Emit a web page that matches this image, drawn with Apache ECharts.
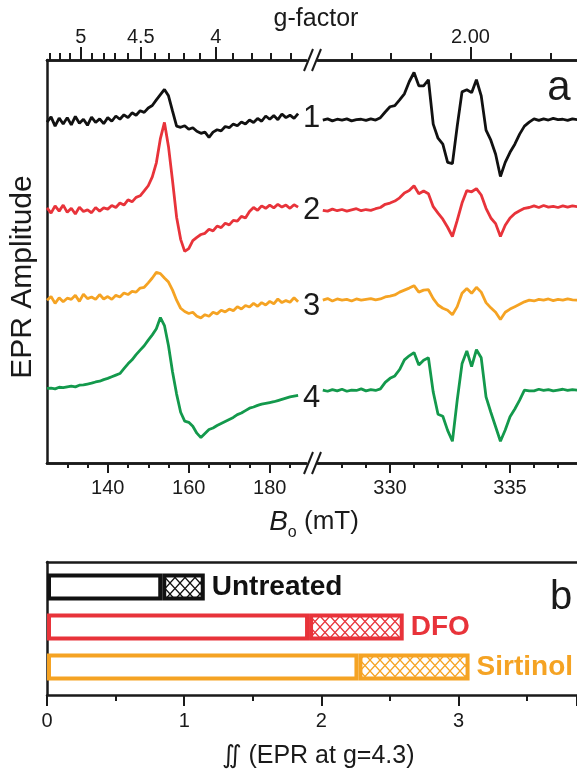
<!DOCTYPE html>
<html>
<head>
<meta charset="utf-8">
<script src="https://cdn.jsdelivr.net/npm/echarts@6/dist/echarts.min.js"></script>
<style>
  html, body { margin: 0; padding: 0; background: #fff; }
  #chart { width: 577px; height: 771px; }
</style>
</head>
<body>
<div id="chart"></div>
<script>
// ---- Panel a: EPR spectra (field in mT, amplitude in arbitrary units) ----

// low-field window (g ~ 4.3 region), 1 mT steps
const fieldLow = [125, 126, 127, 128, 129, 130, 131, 132, 133, 134, 135, 136, 137, 138, 139, 140,
  141, 142, 143, 144, 145, 146, 147, 148, 149, 150, 151, 152, 153, 154, 155, 156, 157, 158, 159, 160,
  161, 162, 163, 164, 165, 166, 167, 168, 169, 170, 171, 172, 173, 174, 175, 176, 177, 178, 179, 180,
  181, 182, 183, 184, 185, 186, 187];

// high-field window (g ~ 2 region), 0.2 mT steps
const fieldHigh = [327.2, 327.4, 327.6, 327.8, 328.0, 328.2, 328.4, 328.6, 328.8, 329.0, 329.2, 329.4,
  329.6, 329.8, 330.0, 330.2, 330.4, 330.6, 330.8, 331.0, 331.2, 331.4, 331.6, 331.8, 332.0, 332.2,
  332.4, 332.6, 332.8, 333.0, 333.2, 333.4, 333.6, 333.8, 334.0, 334.2, 334.4, 334.6, 334.8, 335.0,
  335.2, 335.4, 335.6, 335.8, 336.0, 336.2, 336.4, 336.6, 336.8, 337.0, 337.2, 337.4, 337.6, 337.8];

const spectrum1Low = [-0.5, 0.8, -1.5, 0.5, -1.0, 0.6, -1.2, 0.9, -0.8, 0.2, -1.3, 0.7, -0.6, 0.3, -0.9, 0.6,
  -0.3, 1.0, 0.2, 1.3, 0.6, 1.8, 1.2, 2.3, 1.9, 3.0, 3.6, 5.0, 6.3, 7.6, 6.0, 2.2, -1.5, -1.8, -1.4, -2.3,
  -1.9, -2.8, -3.3, -3.0, -4.3, -3.0, -2.4, -2.7, -1.6, -1.9, -1.0, -1.4, -0.5, -1.0, 0.0, -0.6, 0.4, -0.3,
  1.0, 0.2, 1.1, 0.1, 1.5, 0.6, 1.2, 0.4, 1.6];
const spectrum2Low = [0.3, -1.0, 0.8, -0.5, 1.0, -0.8, 0.2, -1.2, 0.5, -0.6, -0.2, -0.9, 0.4, -0.5, 0.3, 0.0,
  0.9, 0.4, 1.5, 1.0, 2.3, 1.8, 2.9, 3.3, 4.5, 5.8, 8.0, 11.5, 17.5, 21.5, 15.5, 7.0, -2.0, -7.5, -10.5, -9.8,
  -7.8, -7.0, -6.3, -6.0, -5.0, -5.4, -4.2, -4.6, -3.5, -3.9, -2.8, -3.0, -1.8, -2.2, -0.6, 0.4, -0.3, 0.8,
  0.2, 1.0, 0.3, 1.2, 0.5, 1.0, 0.2, 1.1, 0.5];
const spectrum3Low = [0.0, 0.9, -0.8, 0.6, -0.4, 0.5, 0.2, 1.2, -0.3, 1.5, 0.4, 0.8, 0.2, 1.4, 0.3, 0.9,
  0.2, 1.2, 0.8, 1.8, 1.4, 2.2, 2.0, 3.0, 3.2, 4.3, 5.5, 6.9, 6.6, 5.5, 4.5, 2.5, 0.0, -2.0, -2.8, -3.3,
  -3.0, -4.0, -4.4, -3.6, -4.0, -3.0, -3.4, -2.5, -2.9, -2.2, -2.6, -1.6, -2.2, -1.3, -1.7, -0.8, -1.5, -0.6,
  -1.2, -0.3, -0.9, 0.3, -0.6, -0.1, -0.5, 0.6, -0.4];
const spectrum4Low = [0.9, 1.0, 0.8, 1.2, 1.1, 1.3, 1.5, 1.3, 1.7, 1.8, 2.0, 2.2, 2.5, 2.7, 3.1, 3.4,
  3.8, 4.2, 4.6, 5.8, 7.0, 8.0, 9.3, 10.4, 11.5, 12.9, 14.2, 15.7, 18.5, 16.5, 11.5, 5.0, -0.5, -5.0, -7.2, -7.5,
  -8.5, -10.2, -11.3, -10.3, -9.3, -8.9, -8.3, -7.8, -7.3, -6.8, -6.3, -5.6, -5.2, -4.6, -4.0, -3.7, -3.3, -3.0,
  -2.8, -2.6, -2.4, -2.1, -1.8, -1.5, -1.2, -1.0, -0.8];

const spectrum1High = [0.0, 0.3, -0.2, 0.2, 0.0, 0.3, -0.2, 0.1, 0.2, -0.1, 0.3, 0.0, 0.6, 2.0, 3.3, 3.6,
  5.0, 6.5, 9.5, 11.8, 8.5, 8.5, 10.0, -1.0, -4.5, -6.0, -10.5, -10.8, -1.5, 7.0, 7.5, 6.8, 10.0, 6.0,
  -2.5, -5.0, -8.5, -14.0, -10.5, -8.0, -6.0, -3.5, -1.5, -0.5, 0.3, -0.1, 0.3, 0.0, 0.4, 0.1, 0.2, -0.1, 0.3, 0.1];
const spectrum2High = [-0.3, -0.5, 0.0, -0.4, -0.1, -0.5, -0.2, 0.1, -0.4, -0.1, -0.3, 0.1, 0.4, 1.2, 1.5, 2.0,
  2.8, 4.0, 4.6, 5.8, 3.8, 4.5, 3.8, 0.6, -1.0, -2.5, -4.5, -6.8, -2.8, 1.5, 4.6, 4.3, 5.1, 3.5,
  0.2, -2.2, -3.6, -6.8, -4.0, -2.2, -1.1, -0.4, 0.2, 0.4, 0.8, 0.4, 0.9, 0.5, 0.7, 0.4, 0.8, 0.5, 0.8, 0.6];
const spectrum3High = [0.0, 0.4, -0.2, 0.3, 0.0, 0.2, -0.2, 0.3, 0.0, 0.2, 0.4, 0.1, 0.3, 0.8, 1.0, 1.3,
  2.0, 2.5, 3.0, 3.6, 2.0, 2.5, 2.6, 0.4, -1.2, -2.0, -2.5, -3.6, -1.6, 1.7, 2.9, 1.7, 3.2, 2.0,
  -0.6, -1.9, -3.0, -4.8, -3.0, -2.2, -1.6, -1.0, -0.4, 0.0, -0.2, 0.2, 0.0, 0.3, -0.1, 0.2, 0.0, 0.3, 0.1, 0.0];
const spectrum4High = [0.5, 0.2, 0.6, 0.3, 0.7, 0.2, 0.5, 0.4, 0.8, 0.3, 0.6, 0.4, 0.8, 2.4, 3.4, 4.0,
  5.6, 8.0, 9.0, 9.8, 6.7, 7.9, 8.5, 0.0, -5.5, -6.0, -9.5, -12.2, -2.0, 7.0, 10.2, 6.3, 10.5, 8.5,
  -1.2, -5.0, -8.6, -12.2, -9.4, -6.1, -4.2, -2.0, 0.5, 0.3, 0.3, 0.7, 0.4, 0.6, 0.3, 0.5, 0.7, 0.4, 0.6, 0.5];

const traceNames = ['1', '2', '3', '4'];
const traceColors = ['#111111', '#e8333a', '#f5a323', '#13994c'];
const traceOffsets = [85.1, 63.0, 40.4, 17.6];   // vertical stacking of the four spectra
const lowTraces = [spectrum1Low, spectrum2Low, spectrum3Low, spectrum4Low];
const highTraces = [spectrum1High, spectrum2High, spectrum3High, spectrum4High];

// field axes ticks (mT)
const lowMajor = [140, 160, 180];
const lowMinor = [130, 135, 140, 145, 150, 155, 160, 165, 170, 175, 180, 185];
const highMajor = [330, 335];
const highMinor = [328, 329, 330, 331, 332, 333, 334, 335, 336, 337];

// g-factor axis: B * g = h*nu / muB (mT)
const fieldTimesG = 666.7;
const gLowMajor = [5, 4.5, 4];
const gLowMajorText = ['5', '4.5', '4'];
const gLowMinor = [5.3, 5.2, 5.1, 5.0, 4.9, 4.8, 4.7, 4.6, 4.5, 4.4, 4.3, 4.2, 4.1, 4.0, 3.9, 3.8, 3.7, 3.6];
const gHighMajor = [2.00];
const gHighMajorText = ['2.00'];
const gHighMinor = [2.03, 2.02, 2.01, 2.00, 1.99, 1.98];

// ---- Panel b: double-integrated signal at g = 4.3 ----
const groups = ['Untreated', 'DFO', 'Sirtinol'];
const groupColors = ['#111111', '#e8333a', '#f5a323'];
const openPart = [0.84, 1.91, 2.27];
const hatchedPart = [0.31, 0.69, 0.81];

// ---- layout ----
const ink = '#1a1a1a';
const font = 'Liberation Sans, Arial, Helvetica, sans-serif';
const A = { left: 47, top: 60, height: 403, lowMin: 125, lowMax: 189, lowWidth: 259.2,
            highLeft: 318, highMin: 327, highMax: 337.79, highWidth: 259 };
const B = { left: 47, top: 562, height: 133, barTop: 567, barHeight: 120, width: 530, max: 3.863 };

const toField = g => fieldTimesG / g;

function gFormatter(gs, texts) {
  return v => {
    const g = fieldTimesG / v;
    let best = 0;
    gs.forEach((x, i) => { if (Math.abs(x - g) < Math.abs(gs[best] - g)) best = i; });
    return texts[best];
  };
}

function tickAxis(gridIndex, min, max, position, ticks, len, labels, fmt) {
  return {
    type: 'value', gridIndex, min, max, position, offset: 0,
    axisLine: { show: true, onZero: false, lineStyle: { color: ink, width: 2.5 } },
    axisTick: { show: true, inside: false, length: len, customValues: ticks,
                lineStyle: { color: ink, width: 2 } },
    axisLabel: labels ? {
      show: true, customValues: labels, formatter: fmt || (v => String(v)),
      fontSize: 20, color: ink, fontFamily: font, margin: position === 'top' ? 13 : 15
    } : { show: false },
    splitLine: { show: false }
  };
}

const xAxes = [
  tickAxis(0, A.lowMin, A.lowMax, 'bottom', lowMajor, 10, lowMajor),
  tickAxis(0, A.lowMin, A.lowMax, 'bottom', lowMinor, 5),
  tickAxis(0, A.lowMin, A.lowMax, 'top', gLowMajor.map(toField), 13, gLowMajor.map(toField),
           gFormatter(gLowMajor, gLowMajorText)),
  tickAxis(0, A.lowMin, A.lowMax, 'top', gLowMinor.map(toField), 7),
  tickAxis(1, A.highMin, A.highMax, 'bottom', highMajor, 10, highMajor),
  tickAxis(1, A.highMin, A.highMax, 'bottom', highMinor, 5),
  tickAxis(1, A.highMin, A.highMax, 'top', gHighMajor.map(toField), 13, gHighMajor.map(toField),
           gFormatter(gHighMajor, gHighMajorText)),
  tickAxis(1, A.highMin, A.highMax, 'top', gHighMinor.map(toField), 7),
  {
    type: 'value', gridIndex: 2, min: 0, max: B.max, interval: 1, position: 'bottom',
    axisLine: { show: true, onZero: false, lineStyle: { color: ink, width: 2.5 } },
    axisTick: { show: true, length: 11, lineStyle: { color: ink, width: 2 } },
    minorTick: { show: true, splitNumber: 2, length: 6, lineStyle: { color: ink, width: 2 } },
    axisLabel: { fontSize: 20, color: ink, fontFamily: font, margin: 16, showMaxLabel: false },
    splitLine: { show: false }, minorSplitLine: { show: false }
  },
  {
    type: 'value', gridIndex: 2, min: 0, max: B.max, position: 'top',
    axisLine: { show: true, onZero: false, lineStyle: { color: ink, width: 2.5 } },
    axisTick: { show: false }, axisLabel: { show: false }, splitLine: { show: false }
  },
  { type: 'value', gridIndex: 3, min: 0, max: B.max, show: false }
];

const yAxes = [
  { type: 'value', gridIndex: 0, min: 0, max: 100,
    axisLine: { show: true, onZero: false, lineStyle: { color: ink, width: 2.5 } },
    axisTick: { show: false }, axisLabel: { show: false }, splitLine: { show: false } },
  { type: 'value', gridIndex: 1, min: 0, max: 100, show: false },
  { type: 'value', gridIndex: 2, min: 0, max: 1,
    axisLine: { show: true, onZero: false, lineStyle: { color: ink, width: 2.5 } },
    axisTick: { show: false }, axisLabel: { show: false }, splitLine: { show: false } },
  { type: 'category', gridIndex: 3, data: groups, inverse: true, show: false }
];

// vertical nudges for the trace numbers placed in the axis break
const numberShift = [5, 3, 5, 3];

const series = [];
lowTraces.forEach((amp, k) => {
  series.push({
    type: 'line', xAxisIndex: 0, yAxisIndex: 0, symbol: 'none', silent: true,
    data: fieldLow.map((b, i) => [b, traceOffsets[k] + amp[i]]),
    lineStyle: { color: traceColors[k], width: 2.8 },
    itemStyle: { color: traceColors[k] },
    endLabel: { show: true, formatter: traceNames[k], fontSize: 31, color: ink,
                fontFamily: font, distance: 5, offset: [0, numberShift[k]] }
  });
});
highTraces.forEach((amp, k) => {
  series.push({
    type: 'line', xAxisIndex: 4, yAxisIndex: 1, symbol: 'none', silent: true,
    data: fieldHigh.map((b, i) => [b, traceOffsets[k] + amp[i]]),
    lineStyle: { color: traceColors[k], width: 2.8 },
    itemStyle: { color: traceColors[k] }
  });
});

function hatch(color) {
  const c = document.createElement('canvas');
  c.width = 10; c.height = 11;
  const ctx = c.getContext('2d');
  ctx.fillStyle = '#ffffff';
  ctx.fillRect(0, 0, 10, 11);
  ctx.strokeStyle = color;
  ctx.lineWidth = 1.3;
  ctx.beginPath();
  ctx.moveTo(0, 0); ctx.lineTo(10, 11);
  ctx.moveTo(10, 0); ctx.lineTo(0, 11);
  ctx.stroke();
  return c;
}

series.push({
  type: 'bar', xAxisIndex: 10, yAxisIndex: 3, stack: 'integral', barWidth: 27, silent: true,
  data: openPart.map((v, i) => ({
    value: v, itemStyle: { color: '#ffffff', borderColor: groupColors[i], borderWidth: 4 }
  }))
});
series.push({
  type: 'bar', xAxisIndex: 10, yAxisIndex: 3, stack: 'integral', barWidth: 27, silent: true,
  data: hatchedPart.map((v, i) => ({
    value: v,
    itemStyle: { color: { image: hatch(groupColors[i]), repeat: 'repeat' },
                 borderColor: groupColors[i], borderWidth: 4 },
    label: { color: groupColors[i] }
  })),
  label: { show: true, position: 'right', distance: 7, formatter: '{b}',
           fontSize: 28, fontWeight: 'bold', fontFamily: font }
});

// axis-break marks on the top and bottom frame lines
const breakLeft = 304;
const breakMarks = [];
[A.top, A.top + A.height].forEach(y => {
  [0, 8].forEach(dx => {
    breakMarks.push({
      type: 'line', silent: true,
      shape: { x1: breakLeft + dx, y1: y + 11, x2: breakLeft + dx + 9, y2: y - 11 },
      style: { stroke: ink, lineWidth: 2 }
    });
  });
});

function label(text, x, y, size, extra) {
  return {
    type: 'text', x, y, silent: true,
    style: Object.assign({ text, fontSize: size, fontFamily: font, fill: ink,
                           align: 'center', verticalAlign: 'middle' }, extra || {})
  };
}

const yTitle = label('EPR Amplitude', 23, 277, 30);
yTitle.rotation = Math.PI / 2;

const graphics = breakMarks.concat([
  label('g-factor', 316, 19, 25),
  yTitle,
  label('a', 559, 88, 42),
  label('b', 561, 598, 40),
  label('\u222C (EPR at g=4.3)', 318, 756, 25),
  label('{i|B}{s|o} (mT)', 314, 522, 26, {
    rich: {
      i: { fontStyle: 'italic', fontSize: 28, fontFamily: font, fill: ink },
      s: { fontSize: 16, fontFamily: font, fill: ink, padding: [22, 0, 0, 0] }
    }
  })
]);

const chart = echarts.init(document.getElementById('chart'), null, { renderer: 'canvas' });
chart.setOption({
  animation: false,
  backgroundColor: '#ffffff',
  grid: [
    { left: A.left, top: A.top, width: A.lowWidth, height: A.height },
    { left: A.highLeft, top: A.top, width: A.highWidth, height: A.height },
    { left: B.left, top: B.top, width: B.width, height: B.height },
    { left: B.left, top: B.barTop, width: B.width, height: B.barHeight }
  ],
  xAxis: xAxes,
  yAxis: yAxes,
  series,
  graphic: graphics
});
</script>
</body>
</html>
